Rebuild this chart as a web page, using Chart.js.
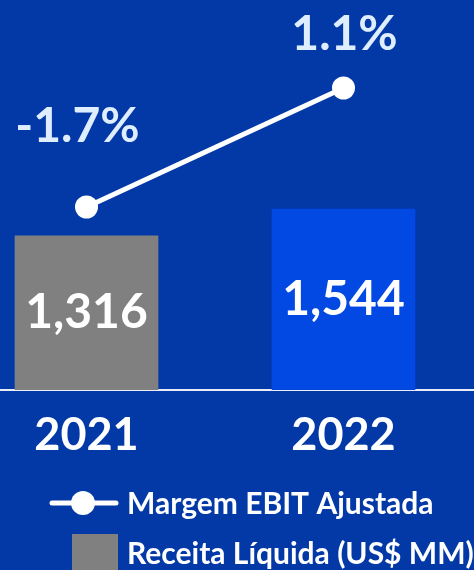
<!DOCTYPE html>
<html>
<head>
<meta charset="utf-8">
<title>Receita Líquida e Margem EBIT</title>
<script src="https://cdn.jsdelivr.net/npm/chart.js@4"></script>
<style>
  html, body { margin: 0; padding: 0; background: #0339a6; }
  #wrap { width: 474px; height: 570px; position: relative; }
</style>
</head>
<body>
<div id="wrap"><canvas id="chart"></canvas></div>
<script>
const years = ['2021', '2022'];
const receita = [1316, 1544];   // Receita Líquida (US$ MM)
const margem = [-1.7, 1.1];     // Margem EBIT Ajustada (%)
const seriesNames = ['Margem EBIT Ajustada', 'Receita Líquida (US$ MM)'];

const FONT = "Lato, 'Open Sans', sans-serif";
const WHITE = '#ffffff';
const LABEL_BLUE = '#dfeeff';
const barColors = ['#808080', '#0249e3'];

// --- values inside the bars and above the line points ---
const valueLabels = {
  id: 'valueLabels',
  afterDatasetsDraw(chart, args, opts) {
    const ctx = chart.ctx;
    ctx.save();
    ctx.textAlign = 'center';
    ctx.textBaseline = 'middle';
    chart.data.datasets.forEach((ds, i) => {
      const meta = chart.getDatasetMeta(i);
      meta.data.forEach((el, j) => {
        if (ds.type === 'line') {
          ctx.font = `bold ${opts.pointSize}px ${FONT}`;
          ctx.fillStyle = LABEL_BLUE;
          ctx.fillText(margem[j].toFixed(1) + '%', el.x + opts.pointDx[j], el.y - opts.pointDy[j]);
        } else {
          ctx.font = `bold ${opts.barSize}px ${FONT}`;
          ctx.fillStyle = WHITE;
          ctx.fillText(receita[j].toLocaleString('en-US'), el.x, (el.y + el.base) / 2);
        }
      });
    });
    ctx.restore();
  }
};

// --- legend stacked under the axis, text left aligned ---
const stackedLegend = {
  id: 'stackedLegend',
  afterDraw(chart, args, opts) {
    const ctx = chart.ctx;
    ctx.save();
    ctx.font = `bold ${opts.size}px ${FONT}`;
    ctx.textBaseline = 'middle';
    chart.data.datasets.forEach((ds, i) => {
      const y = opts.rows[i];
      const r = opts.iconRight;
      if (ds.type === 'line') {
        ctx.strokeStyle = WHITE;
        ctx.lineWidth = 5;
        ctx.lineCap = 'round';
        ctx.beginPath(); ctx.moveTo(r - 66, y); ctx.lineTo(r - 2, y); ctx.stroke();
        ctx.fillStyle = WHITE;
        ctx.beginPath(); ctx.arc(r - 35, y, 12, 0, Math.PI * 2); ctx.fill();
      } else {
        ctx.fillStyle = barColors[0];
        ctx.fillRect(r - 46, y - 19, 46, 46);
      }
      ctx.fillStyle = WHITE;
      ctx.fillText(ds.label, opts.textX, y + 1);
    });
    ctx.restore();
  }
};

new Chart(document.getElementById('chart'), {
  type: 'bar',
  data: {
    datasets: [
      {
        type: 'line',
        label: seriesNames[0],
        data: margem.map((v, i) => ({ x: i, y: v })),
        yAxisID: 'y2',
        borderColor: WHITE,
        borderWidth: 5,
        pointRadius: 11.5,
        pointBackgroundColor: WHITE,
        pointBorderWidth: 0,
        order: 0
      },
      {
        type: 'bar',
        label: seriesNames[1],
        data: receita.map((v, i) => ({ x: i, y: v })),
        yAxisID: 'y',
        backgroundColor: barColors,
        barThickness: 143,
        order: 1
      }
    ]
  },
  options: {
    responsive: true,
    maintainAspectRatio: false,
    animation: false,
    layout: { autoPadding: false, padding: { bottom: 98 } },
    scales: {
      x: {
        type: 'linear',
        offset: false,
        min: -0.3366,
        max: 1.5078,
        grid: { display: false, drawTicks: false },
        border: { display: true, color: '#e8eef8', width: 2 },
        afterBuildTicks: s => { s.ticks = years.map((_, i) => ({ value: i })); },
        afterFit: s => { s.height = 82; s.paddingLeft = 0; s.paddingRight = 0; },
        ticks: {
          color: WHITE,
          padding: 18,
          font: { family: FONT, size: 45, weight: 'bold' },
          callback: v => years[v]
        }
      },
      y: { display: false, min: 0, max: 3330 },
      y2: { display: false, position: 'right', min: -6.006, max: 3.1706 }
    },
    plugins: {
      legend: { display: false },
      tooltip: { enabled: false },
      valueLabels: { pointSize: 48, barSize: 48, pointDx: [-9, 1], pointDy: [80, 53] },
      stackedLegend: { size: 30, rows: [503, 553], iconRight: 118, textX: 127 }
    }
  },
  plugins: [valueLabels, stackedLegend]
});
</script>
</body>
</html>
